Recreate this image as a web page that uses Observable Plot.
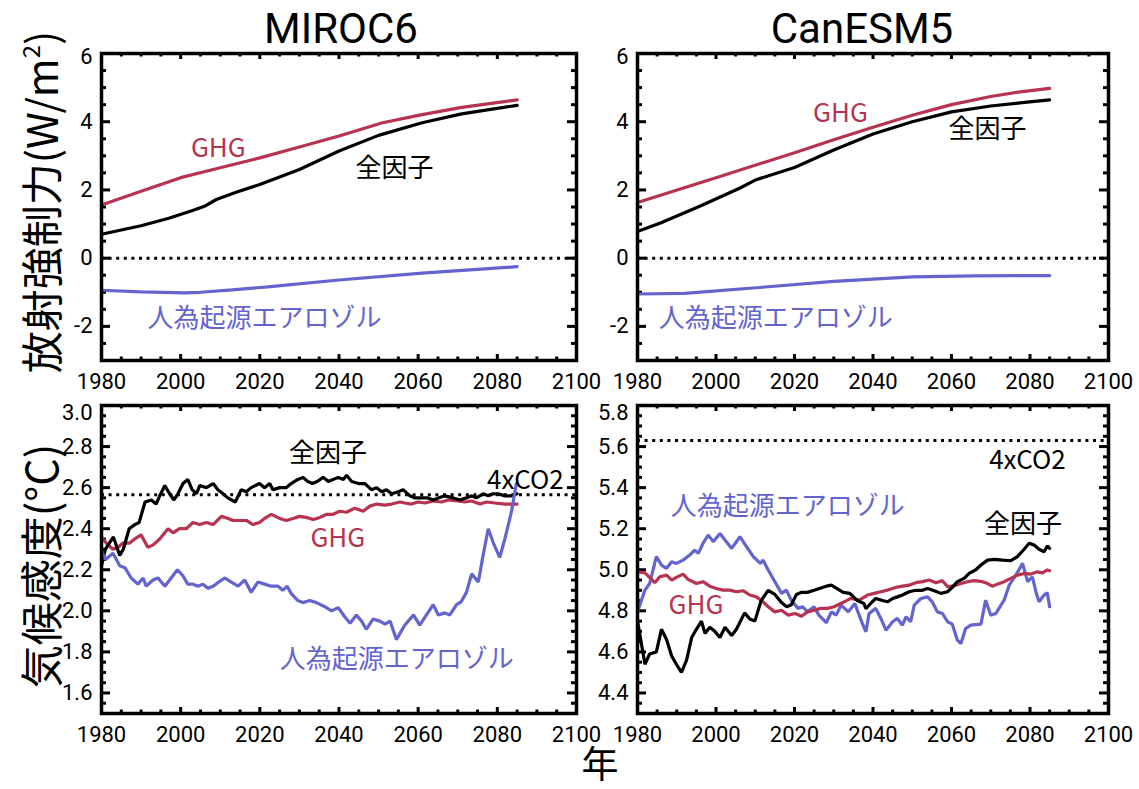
<!DOCTYPE html>
<html><head><meta charset="utf-8">
<script src="https://cdn.jsdelivr.net/npm/d3@7"></script>
<script src="https://cdn.jsdelivr.net/npm/@observablehq/plot@0.6"></script>
<style>
body{margin:0;background:#fff;}
#wrap{position:relative;width:1139px;height:789px;overflow:hidden;font-family:"Noto Sans CJK JP","Noto Sans",sans-serif;color:#000;}
.pl{position:absolute;}
.title{position:absolute;font-size:42px;font-family:Roboto,"Noto Sans",sans-serif;transform:translate(-50%,-50%);white-space:nowrap;line-height:1;}
.xtitle{position:absolute;font-size:37px;transform:translate(-50%,-50%);white-space:nowrap;line-height:1;}
.ytitle{position:absolute;font-size:42px;transform:translate(-50%,-50%) rotate(-90deg);white-space:nowrap;line-height:1.3;}
</style></head><body><div id="wrap"></div>
<script>
// ---------- tick labels ----------
const xTickLabels = [1980, 2000, 2020, 2040, 2060, 2080, 2100];
const yTickLabelsForcing = [-2, 0, 2, 4, 6];
const yTickLabelsMiroc = [1.6, 1.8, 2.0, 2.2, 2.4, 2.6, 2.8, 3.0];
const yTickLabelsCan = [4.4, 4.6, 4.8, 5.0, 5.2, 5.4, 5.6, 5.8];

// ---------- MIROC6 radiative forcing (W/m2) ----------
const mirocForcingGHG = [[1980,1.56],[1990,1.96],[2000,2.36],[2010,2.65],[2020,2.94],[2030,3.26],[2040,3.58],[2051,3.97],[2061,4.21],[2071,4.42],[2085,4.64]];
const mirocForcingAll = [[1980,0.70],[1990,0.95],[1997,1.17],[2003,1.40],[2006,1.52],[2009,1.72],[2014,1.93],[2020,2.16],[2030,2.60],[2040,3.14],[2050,3.60],[2061,3.97],[2071,4.23],[2085,4.48]];
const mirocForcingAer = [[1980,-0.94],[1990,-0.99],[2001,-1.02],[2005,-1.00],[2013,-0.93],[2022,-0.84],[2040,-0.64],[2061,-0.44],[2085,-0.25]];

// ---------- CanESM5 radiative forcing (W/m2) ----------
const canForcingGHG = [[1980,1.63],[2000,2.36],[2020,3.09],[2030,3.47],[2040,3.84],[2050,4.19],[2060,4.50],[2070,4.74],[2077,4.87],[2085,4.98]];
const canForcingAll = [[1980,0.78],[1986,1.04],[1996,1.53],[2006,2.05],[2010,2.29],[2020,2.66],[2030,3.17],[2040,3.64],[2050,4.00],[2060,4.29],[2070,4.46],[2078,4.56],[2085,4.64]];
const canForcingAer = [[1980,-1.05],[1992,-1.03],[2011,-0.86],[2030,-0.68],[2050,-0.55],[2066,-0.52],[2085,-0.51]];

// ---------- MIROC6 climate sensitivity (°C) ----------
const mirocSensAll = [[1980,2.22],[1981,2.30],[1983,2.36],[1984.6,2.27],[1985.5,2.30],[1987,2.40],[1988.4,2.42],[1989.5,2.43],[1991,2.53],[1992.6,2.54],[1993.8,2.52],[1994.7,2.56],[1996,2.61],[1997.2,2.57],[1998.3,2.54],[1999.3,2.57],[2000.6,2.62],[2001.8,2.64],[2002.9,2.59],[2004,2.57],[2004.8,2.61],[2006.5,2.60],[2008.2,2.62],[2009.4,2.59],[2010.7,2.57],[2011.9,2.55],[2013.8,2.53],[2015.3,2.59],[2016.6,2.58],[2017.8,2.60],[2019.9,2.62],[2021.2,2.60],[2022.5,2.62],[2023.3,2.59],[2025,2.60],[2026.7,2.60],[2027.9,2.62],[2029.6,2.64],[2030.9,2.65],[2032.1,2.63],[2033.3,2.62],[2034.5,2.63],[2036,2.65],[2037.3,2.63],[2039.8,2.65],[2041.1,2.64],[2041.9,2.66],[2043.2,2.63],[2044.9,2.62],[2046.5,2.62],[2048.2,2.59],[2049.5,2.60],[2050.8,2.58],[2052,2.59],[2053.3,2.57],[2055,2.58],[2056.2,2.59],[2057.9,2.56],[2059.2,2.55],[2060.9,2.55],[2062.5,2.55],[2063.8,2.54],[2065.1,2.55],[2066.7,2.56],[2068.9,2.55],[2070.5,2.54],[2072.2,2.55],[2073.5,2.56],[2074.7,2.55],[2076.4,2.57],[2077.7,2.56],[2078.9,2.57],[2080.2,2.57],[2081.9,2.56],[2083.6,2.56],[2085,2.57]];
const mirocSensGHG = [[1980,2.36],[1981.2,2.33],[1982.9,2.30],[1984.2,2.31],[1985.4,2.33],[1987.1,2.33],[1988.4,2.35],[1990,2.37],[1991.7,2.31],[1993,2.32],[1994.7,2.35],[1996.8,2.40],[1998.1,2.38],[1999.7,2.40],[2001.4,2.40],[2003.1,2.43],[2004.8,2.42],[2006.5,2.43],[2008.2,2.42],[2010.3,2.46],[2012,2.45],[2013.2,2.44],[2014.9,2.44],[2016.6,2.44],[2018.3,2.42],[2019.9,2.43],[2021.2,2.45],[2022.9,2.47],[2025,2.45],[2026.7,2.44],[2028.4,2.45],[2030,2.46],[2031.7,2.455],[2033.5,2.445],[2035.2,2.455],[2036.9,2.47],[2038.5,2.47],[2040.2,2.485],[2041.9,2.48],[2044,2.50],[2046.1,2.485],[2047.8,2.51],[2049.5,2.52],[2051.6,2.515],[2053.3,2.52],[2055.4,2.53],[2056.6,2.525],[2058.3,2.52],[2060,2.53],[2061.7,2.525],[2063.8,2.535],[2065.9,2.53],[2067.6,2.54],[2070.1,2.535],[2071.8,2.53],[2073.5,2.535],[2075.6,2.52],[2077.3,2.53],[2079.4,2.525],[2081.9,2.52],[2085,2.52]];
const mirocSensAer = [[1980,2.29],[1981,2.25],[1982.9,2.28],[1984.6,2.22],[1985.9,2.21],[1987.5,2.16],[1989.2,2.13],[1990.5,2.16],[1991.3,2.12],[1993,2.15],[1994.3,2.16],[1996,2.12],[1997.2,2.15],[1999.2,2.20],[2000.6,2.17],[2001.8,2.13],[2003.1,2.13],[2004.4,2.12],[2005.6,2.13],[2006.9,2.11],[2008.2,2.12],[2009.6,2.14],[2011.1,2.16],[2012.8,2.14],[2014.5,2.12],[2016.2,2.15],[2017.8,2.09],[2019.5,2.14],[2021.2,2.13],[2022.9,2.12],[2024.6,2.12],[2025.8,2.10],[2026.9,2.12],[2027.9,2.085],[2029.6,2.05],[2030.9,2.04],[2032.6,2.05],[2034.3,2.04],[2036.4,2.02],[2038.1,2.00],[2039.8,2.015],[2041.5,1.97],[2042.8,1.94],[2044.4,1.98],[2045.7,1.95],[2046.9,1.91],[2048.6,1.96],[2050.3,1.95],[2051.6,1.935],[2052.9,1.95],[2054.5,1.86],[2056.6,1.93],[2058.8,1.98],[2060.4,1.93],[2062.1,1.98],[2063.8,2.03],[2065.1,1.98],[2066.7,1.99],[2068,1.98],[2069.7,2.03],[2070.9,2.045],[2072.2,2.09],[2073.5,2.18],[2075.2,2.14],[2076.4,2.27],[2077.7,2.40],[2079,2.33],[2080.6,2.26],[2081.9,2.35],[2083.6,2.485],[2084.8,2.62]];
const mirocSens4xCO2 = 2.565;

// ---------- CanESM5 climate sensitivity (°C) ----------
const canSensAll = [[1980,4.75],[1981.9,4.54],[1983.1,4.59],[1984.8,4.60],[1986.1,4.71],[1987.4,4.66],[1988.7,4.58],[1989.9,4.54],[1991.2,4.50],[1992.5,4.56],[1993.8,4.67],[1995,4.71],[1996.3,4.75],[1997.2,4.69],[1998.4,4.72],[1999.7,4.70],[2001,4.67],[2002.3,4.72],[2004,4.68],[2005.2,4.71],[2007.3,4.79],[2008.6,4.76],[2009.9,4.75],[2011.5,4.85],[2013.3,4.90],[2015,4.88],[2016.7,4.84],[2018,4.82],[2019.2,4.83],[2020.5,4.88],[2021.8,4.89],[2023.3,4.89],[2025,4.90],[2028.1,4.92],[2029.4,4.925],[2032.4,4.89],[2034.1,4.885],[2036,4.85],[2037.7,4.836],[2038.2,4.81],[2039.4,4.836],[2040.7,4.86],[2042.4,4.85],[2043.7,4.844],[2045,4.86],[2046.2,4.868],[2047.5,4.877],[2049.2,4.893],[2050.9,4.90],[2052.6,4.90],[2053.9,4.909],[2055.6,4.898],[2057.3,4.885],[2059,4.893],[2060.2,4.914],[2061.5,4.942],[2063.2,4.958],[2064.5,4.982],[2066.2,5.00],[2067.5,5.023],[2069.2,5.047],[2070.9,5.051],[2073,5.047],[2075.1,5.044],[2076.8,5.064],[2078.5,5.10],[2079.8,5.129],[2081.1,5.12],[2082.3,5.10],[2083.6,5.088],[2084.4,5.116],[2085,5.104]];
const canSensGHG = [[1980,4.99],[1981.9,4.985],[1984.4,4.937],[1985.7,4.966],[1987.4,4.974],[1988.7,4.95],[1989.9,4.963],[1991.6,4.979],[1992.9,4.953],[1995,4.933],[1996.7,4.942],[1998.4,4.92],[2000.1,4.909],[2001.8,4.901],[2003.5,4.901],[2005.2,4.893],[2006.9,4.898],[2008.6,4.877],[2010.3,4.868],[2012,4.844],[2013.3,4.82],[2015,4.795],[2016.7,4.803],[2018.4,4.779],[2020.1,4.787],[2021.8,4.774],[2023.3,4.795],[2025,4.803],[2026.7,4.812],[2028.4,4.812],[2030.1,4.82],[2031.8,4.836],[2033.5,4.852],[2034.3,4.86],[2036.5,4.852],[2038.6,4.877],[2040.3,4.885],[2042,4.893],[2043.7,4.901],[2045.8,4.914],[2047.5,4.92],[2049.2,4.925],[2050.9,4.937],[2052.6,4.942],[2054.3,4.95],[2056,4.937],[2057.7,4.947],[2059,4.917],[2060.2,4.92],[2062.4,4.933],[2064.1,4.942],[2065.8,4.947],[2067.9,4.942],[2069.2,4.933],[2070.4,4.92],[2071.7,4.93],[2073.4,4.942],[2075.1,4.958],[2076.8,4.974],[2078.5,4.982],[2080.2,4.979],[2081.9,4.99],[2083.2,4.985],[2084.4,4.999],[2085,4.995]];
const canSensAer = [[1980,4.795],[1981.9,4.901],[1983.1,4.933],[1984.8,5.064],[1986.1,5.023],[1987.4,5.007],[1988.7,5.039],[1989.9,5.031],[1991.6,5.047],[1993.3,5.072],[1994.6,5.096],[1995.5,5.08],[1996.7,5.129],[1998,5.169],[1999.3,5.137],[2001,5.177],[2002.3,5.145],[2004,5.104],[2006.1,5.161],[2007.8,5.112],[2009.5,5.064],[2011.3,5.031],[2012,5.047],[2013.3,4.999],[2015,4.942],[2016.7,4.885],[2017.9,4.901],[2019.2,4.852],[2020.9,4.812],[2022.1,4.82],[2023.3,4.795],[2025,4.82],[2026.2,4.779],[2028.1,4.742],[2029.4,4.795],[2030.6,4.779],[2031.9,4.828],[2033.7,4.795],[2035.4,4.836],[2036,4.803],[2037.3,4.738],[2038.2,4.698],[2039,4.787],[2040.7,4.812],[2042,4.763],[2043.3,4.706],[2045,4.747],[2046.2,4.763],[2047.5,4.73],[2048.4,4.771],[2049.6,4.747],[2050.5,4.828],[2052.2,4.86],[2053.9,4.868],[2055.1,4.844],[2056.4,4.795],[2057.7,4.787],[2059,4.747],[2060.2,4.735],[2061.5,4.657],[2062.4,4.641],[2063.6,4.714],[2064.9,4.73],[2067.5,4.735],[2068.7,4.852],[2070,4.779],[2071.3,4.787],[2073.4,4.852],[2074.7,4.925],[2076.4,4.974],[2078.1,5.031],[2079.4,4.942],[2080.6,4.966],[2081.5,4.893],[2082.3,4.844],[2083.6,4.877],[2084.4,4.888],[2085,4.82]];
const canSens4xCO2 = 5.63;

// ---------- series names / colours ----------
const nameAll = "全因子", nameGHG = "GHG", nameAer = "人為起源エアロゾル", name4x = "4xCO2";
const colAll = "#000000", colGHG = "#b73350", colAer = "#6464cf";

const wrap = document.getElementById("wrap");
const FONT = '"Noto Sans CJK JP", "Noto Sans", sans-serif';
const TICKFONT = 'Roboto, "Noto Sans", sans-serif';

function panel(cfg) {
  const ml = 55, mr = 40, mt = 15, mb = 45;
  const fw = cfg.R - cfg.L, fh = cfg.B - cfg.T;
  const [y0, y1] = cfg.yDomain;
  const kx = 120 / fw, ky = (y1 - y0) / fh;
  const near = (a, list) => list.some(b => Math.abs(a - b) < 1e-6);
  const xMinor = d3.range(1980, 2100.01, 5).filter(v => !near(v, xTickLabels));
  const yMinor = d3.range(y0, y1 + 1e-6, cfg.yMinorStep).filter(v => !near(v, cfg.yTicks) && v > y0 + 1e-6 && v < y1 - 1e-6);
  const yMajor = cfg.yTicks.filter(v => v > y0 + 1e-6 && v < y1 - 1e-6);
  const xMajor = xTickLabels.filter(v => v > 1980 && v < 2100);
  const XM = 6 * ky, Xm = 3.5 * ky, YM = 9 * kx, Ym = 5 * kx;
  const tickStyle = {stroke: "black", strokeWidth: 3};
  const marks = [
    Plot.ruleX(xMajor, {x: d => d, y1: () => y0, y2: () => y0 + XM, ...tickStyle}),
    Plot.ruleX(xMajor, {x: d => d, y1: () => y1, y2: () => y1 - XM, ...tickStyle}),
    Plot.ruleX(xMinor, {x: d => d, y1: () => y0, y2: () => y0 + Xm, ...tickStyle}),
    Plot.ruleX(xMinor, {x: d => d, y1: () => y1, y2: () => y1 - Xm, ...tickStyle}),
    Plot.ruleY(yMajor, {y: d => d, x1: () => 1980, x2: () => 1980 + YM, ...tickStyle}),
    Plot.ruleY(yMajor, {y: d => d, x1: () => 2100, x2: () => 2100 - YM, ...tickStyle}),
    Plot.ruleY(yMinor, {y: d => d, x1: () => 1980, x2: () => 1980 + Ym, ...tickStyle}),
    Plot.ruleY(yMinor, {y: d => d, x1: () => 2100, x2: () => 2100 - Ym, ...tickStyle}),
    Plot.ruleY([cfg.ref], {y: d => d, stroke: "black", strokeWidth: 3, strokeDasharray: "3,4.6"}),
  ];
  for (const s of cfg.series) {
    marks.push(Plot.line(s.data, {x: d => d[0], y: d => d[1], stroke: s.color, strokeWidth: 3.2, strokeLinejoin: "miter"}));
  }
  for (const t of cfg.labels) {
    marks.push(Plot.text([t], {x: d => d.x, y: d => d.y, text: d => d.text, fill: d => d.color,
      fontSize: 26, fontFamily: FONT, textAnchor: t.anchor || "middle", lineAnchor: "middle"}));
  }
  marks.push(Plot.frame({stroke: "black", strokeWidth: 3.5}));
  marks.push(Plot.axisX(xTickLabels, {tickSize: 0, tickPadding: 13, tickFormat: d => String(d), fontSize: 22, fontFamily: TICKFONT}));
  const topTick = cfg.yTicks[cfg.yTicks.length - 1];
  const restTicks = cfg.yTicks.slice(0, -1);
  marks.push(Plot.axisY(restTicks, {tickSize: 0, tickPadding: 9, tickFormat: cfg.fmt, fontSize: 22, fontFamily: TICKFONT}));
  marks.push(Plot.axisY([topTick], {tickSize: 0, tickPadding: 9, tickFormat: cfg.fmt, fontSize: 22, fontFamily: TICKFONT, dy: cfg.topDy}));
  const chart = Plot.plot({
    width: fw + ml + mr, height: fh + mt + mb,
    marginLeft: ml, marginRight: mr, marginTop: mt, marginBottom: mb,
    x: {domain: [1980, 2100]},
    y: {domain: cfg.yDomain},
    style: {background: "transparent", overflow: "visible", fontFamily: FONT, fontSize: "22px", color: "black"},
    marks
  });
  chart.classList.add("pl");
  chart.style.left = (cfg.L - ml) + "px";
  chart.style.top = (cfg.T - mt) + "px";
  wrap.appendChild(chart);
}

const fmtInt = d => String(d);
const fmt1 = d3.format(".1f");

panel({L: 101, R: 576, T: 53, B: 360, yDomain: [-3, 6], yTicks: yTickLabelsForcing, yMinorStep: 0.5, fmt: fmtInt, ref: 0, topDy: 3,
  series: [{data: mirocForcingAer, color: colAer}, {data: mirocForcingGHG, color: colGHG}, {data: mirocForcingAll, color: colAll}],
  labels: [{x: 2009.5, y: 3.22, text: nameGHG, color: colGHG}, {x: 2054, y: 2.63, text: nameAll, color: colAll}, {x: 2021.2, y: -1.78, text: nameAer, color: colAer}]});

panel({L: 637, R: 1108, T: 53, B: 360, yDomain: [-3, 6], yTicks: yTickLabelsForcing, yMinorStep: 0.5, fmt: fmtInt, ref: 0, topDy: 3,
  series: [{data: canForcingAer, color: colAer}, {data: canForcingGHG, color: colGHG}, {data: canForcingAll, color: colAll}],
  labels: [{x: 2031.7, y: 4.24, text: nameGHG, color: colGHG}, {x: 2069.2, y: 3.77, text: nameAll, color: colAll}, {x: 2015.2, y: -1.78, text: nameAer, color: colAer}]});

panel({L: 101, R: 576, T: 405, B: 713, yDomain: [1.5, 3.0], yTicks: yTickLabelsMiroc, yMinorStep: 0.05, fmt: fmt1, ref: mirocSens4xCO2, topDy: 7,
  series: [{data: mirocSensGHG, color: colGHG}, {data: mirocSensAll, color: colAll}, {data: mirocSensAer, color: colAer}],
  labels: [{x: 2037.2, y: 2.764, text: nameAll, color: colAll}, {x: 2039.7, y: 2.353, text: nameGHG, color: colGHG},
           {x: 2054.6, y: 1.761, text: nameAer, color: colAer}, {x: 2077.4, y: 2.632, text: name4x, color: colAll, anchor: "start"}]});

panel({L: 637, R: 1108, T: 405, B: 713, yDomain: [4.3, 5.8], yTicks: yTickLabelsCan, yMinorStep: 0.05, fmt: fmt1, ref: canSens4xCO2, topDy: 7,
  series: [{data: canSensAer, color: colAer}, {data: canSensGHG, color: colGHG}, {data: canSensAll, color: colAll}],
  labels: [{x: 2069.6, y: 5.53, text: name4x, color: colAll, anchor: "start"}, {x: 2018.3, y: 5.306, text: nameAer, color: colAer},
           {x: 2078.2, y: 5.218, text: nameAll, color: colAll}, {x: 1994.9, y: 4.825, text: nameGHG, color: colGHG}]});

// titles
function addDiv(cls, html, x, y, size) {
  const d = document.createElement("div");
  d.className = cls; d.innerHTML = html;
  d.style.left = x + "px"; d.style.top = y + "px";
  if (size) d.style.fontSize = size + "px";
  wrap.appendChild(d);
}
addDiv("title", "MIROC6", 341, 29);
addDiv("title", "CanESM5", 862, 29);
addDiv("ytitle", "放射強制力(W/m<sup style=\"font-size:24px;vertical-align:18px;line-height:0\">2</sup>)", 40, 202);
addDiv("ytitle", "気候感度(°C)", 40, 566, 43);
addDiv("xtitle", "年", 600, 762);
</script></body></html>
